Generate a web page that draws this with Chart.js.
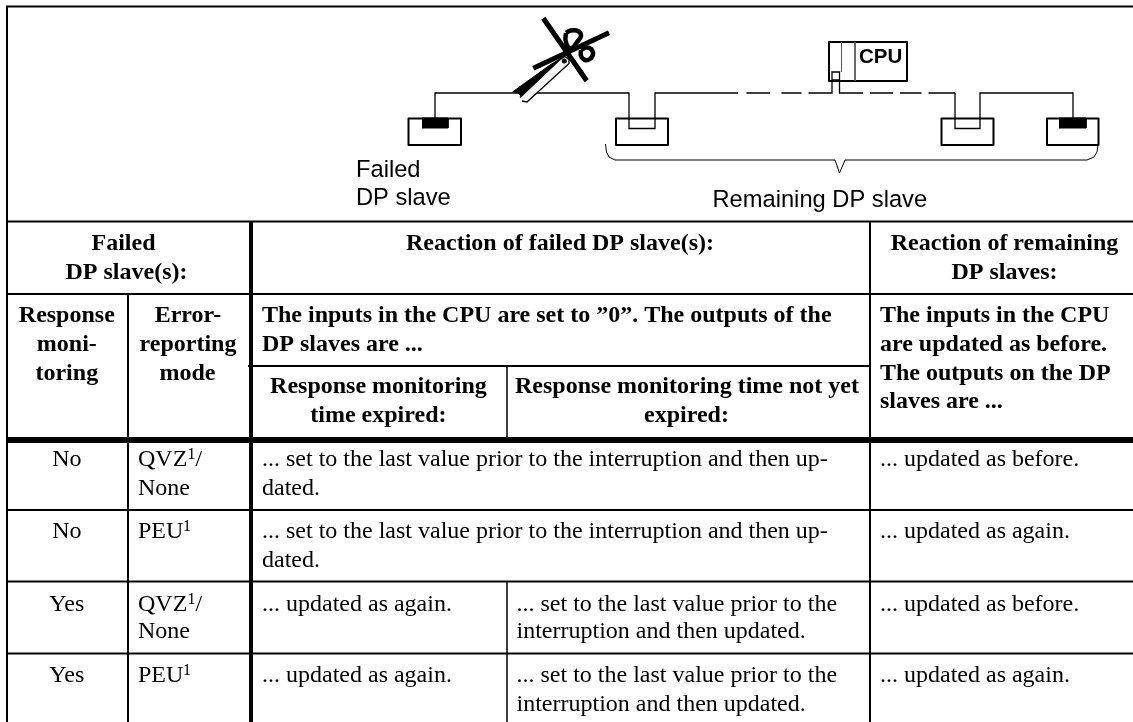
<!DOCTYPE html>
<html>
<head>
<meta charset="utf-8">
<title>DP slave failure reactions</title>
<script src="https://cdn.jsdelivr.net/npm/chart.js@4/dist/chart.umd.min.js"></script>
<style>
html, body { margin: 0; padding: 0; background: #fff; }
canvas { display: block; }
</style>
</head>
<body>
<canvas id="table" width="1133" height="722"></canvas>
<script>
// Everything sits on one linear x/y scale that runs over the size of the picture
const pageW = 1133;
const pageH = 722;

// Table rules, [x1, y1, x2, y2]
const rulesHeavy = [
    [6, 6.5, 1133, 6.5],
    [6, 221.5, 1133, 221.5],
    [7, 6, 7, 722],
    [6, 294, 1133, 294],
    [128, 294, 128, 722],
    [870, 222, 870, 722],
    [7, 510, 1133, 510],
    [7, 581.5, 1133, 581.5],
    [7, 653.5, 1133, 653.5],
    [248, 366, 870, 366]
];
const rulesThin = [
    [507, 366, 507, 440],
    [507, 582, 507, 722]
];
const ruleColumn = [[251, 222, 251, 722]];
const ruleHeader = [[6, 440, 1133, 440]];

// Bus drawing
const busSolid = [
    [435, 118], [435, 93], [629, 93], [629, 128.5], [655, 128.5], [655, 93], [738, 93], null,
    [955, 93], [955, 128.5], [980, 128.5], [980, 93], [1073, 93], [1073, 118], null,
    [746.5, 93], [770, 93], null,
    [781.5, 93], [801.5, 93], null,
    [808.5, 93], [832, 93], [832, 72], [839.5, 72], [839.5, 93], [863, 93], null,
    [832, 80], [839.5, 80], null,
    [870, 93], [893, 93], null,
    [900, 93], [921.5, 93], null,
    [928.5, 93], [955, 93]
];
const cpuInner = [
    [841.5, 42], [841.5, 72], null,
    [855, 42], [855, 81]
];
const boxes = [
    [408.5, 118.5], [461, 118.5], [461, 145], [408.5, 145], [408.5, 118.5], null,
    [616, 118.5], [668, 118.5], [668, 145], [616, 145], [616, 118.5], null,
    [941.5, 118.5], [993.5, 118.5], [993.5, 145], [941.5, 145], [941.5, 118.5], null,
    [1047, 118.5], [1098.5, 118.5], [1098.5, 145], [1047, 145], [1047, 118.5], null,
    [829, 42], [907, 42], [907, 81], [829, 81], [829, 42]
];
const slaveFailLeft = [[422, 118], [448, 118], [448, 128], [422, 128]];
const slaveFailRight = [[1059, 118], [1086, 118], [1086, 128], [1059, 128]];
const brace = [
    [605.5, 144], [606.5, 152], [609, 157], [615, 160], [835, 160], [839.5, 173], [845, 160],
    [1087, 160], [1094, 157], [1097, 152], [1098, 145]
];

// Scissors
const scissorBars = [
    [543.3, 18.3], [586.7, 80.7], null,
    [533.3, 68.3], [609, 32.7]
];
const bladeBlack = [[512.5, 92], [550, 65], [563, 57], [522, 97], [518, 93]];
const bladeWhite = [[520, 97.5], [560, 59.5], [565, 56.5], [569, 59.5], [569, 63.5], [527, 102], [522, 101]];
const ringUpper = [[566, 33], [571, 30.5], [578, 31], [581, 36], [577, 42], [572, 48], [568, 47], [565.5, 40], [566, 33]];
const ringLower = [[581, 50], [586, 47.5], [591, 49], [593, 54], [590, 59], [585, 60], [581, 56], [581, 50]];
const scissorPivot = [[564.3, 61]];

// Text rows: [text, x, baseline]
const textBoldCentre = [
    ['Failed', 123.5, 250], ['DP slave(s):', 126.5, 279],
    ['Reaction of failed DP slave(s):', 560, 250],
    ['Reaction of remaining', 1004.5, 250], ['DP slaves:', 1004.5, 279],
    ['Response', 66.8, 322], ['moni-', 66.8, 351], ['toring', 66.8, 380],
    ['Error-', 188, 322], ['reporting', 188, 351], ['mode', 187.5, 380],
    ['Response monitoring', 378.4, 393], ['time expired:', 378.4, 422],
    ['Response monitoring time not yet', 687, 393], ['expired:', 686.5, 422]
];
const textBoldLeft = [
    ['The inputs in the CPU are set to \u201d0\u201d. The outputs of the', 262, 322],
    ['DP slaves are ...', 262, 351],
    ['The inputs in the CPU', 880, 322],
    ['are updated as before.', 880, 351],
    ['The outputs on the DP', 880, 380],
    ['slaves are ...', 880, 408]
];
const textBody = [
    ['QVZ', 138, 466], ['None', 138, 494.5],
    ['... set to the last value prior to the interruption and then up-', 262, 466], ['dated.', 262, 494.5],
    ['... updated as before.', 880, 466],
    ['PEU', 138, 538],
    ['... set to the last value prior to the interruption and then up-', 262, 538], ['dated.', 262, 567],
    ['... updated as again.', 880, 538],
    ['QVZ', 138, 610.5], ['None', 138, 638],
    ['... updated as again.', 262, 610.5],
    ['... set to the last value prior to the', 516.5, 610.5], ['interruption and then updated.', 516.5, 638],
    ['... updated as before.', 880, 610.5],
    ['PEU', 138, 682],
    ['... updated as again.', 262, 682],
    ['... set to the last value prior to the', 516.5, 682], ['interruption and then updated.', 516.5, 710.5],
    ['... updated as again.', 880, 682]
];
const textBodyCentre = [['No', 66.8, 466], ['No', 66.8, 538], ['Yes', 66.8, 610.5], ['Yes', 66.8, 682]];
const textNotes = [['1', 187.5, 459], ['1', 183, 531], ['1', 187.5, 603.5], ['1', 183, 675]];
const textSlash = [['/', 195.5, 466], ['/', 195.5, 610.5]];
const textDiagram = [
    ['Failed', 356, 177], ['DP slave', 356, 205], ['Remaining DP slave', 712.5, 206.5]
];
const textCpu = [['CPU', 859, 62.5]];

// segments -> points with gaps, so one dataset can hold all the lines of one weight
function fromSegments(segs) {
    const out = [];
    segs.forEach(function(s) {
        out.push({ x: s[0], y: s[1] }, { x: s[2], y: s[3] }, { x: s[2], y: null });
    });
    return out;
}
function fromPath(path) {
    return path.map(function(p, i) {
        return p ? { x: p[0], y: p[1] } : { x: path[i - 1][0], y: null };
    });
}
function line(data, width, extra) {
    return Object.assign({
        data: data, showLine: true, borderColor: '#000', borderWidth: width,
        pointRadius: 0, fill: false, clip: false, spanGaps: false, tension: 0
    }, extra || {});
}
function solid(path) {
    return line(fromPath(path), 1, { fill: 'shape', backgroundColor: '#000' });
}

const textPlugin = {
    id: 'tableText',
    afterDraw: function(chart) {
        const ctx = chart.ctx;
        const xs = chart.scales.x;
        const ys = chart.scales.y;
        function put(rows, font, align) {
            ctx.font = font;
            ctx.textAlign = align;
            ctx.textBaseline = 'alphabetic';
            ctx.fillStyle = '#000';
            rows.forEach(function(r) {
                ctx.fillText(r[0], xs.getPixelForValue(r[1]), ys.getPixelForValue(r[2]));
            });
        }
        ctx.save();
        put(textBoldCentre, 'bold 24px "Liberation Serif"', 'center');
        put(textBoldLeft, 'bold 24px "Liberation Serif"', 'left');
        put(textBody, '24px "Liberation Serif"', 'left');
        put(textBodyCentre, '24px "Liberation Serif"', 'center');
        put(textSlash, '24px "Liberation Serif"', 'left');
        put(textNotes, '16px "Liberation Serif"', 'left');
        put(textDiagram, '23.7px "Liberation Sans"', 'left');
        put(textCpu, 'bold 20.5px "Liberation Sans"', 'left');
        ctx.restore();
    }
};

// Chart.js draws the first dataset on top, so the list runs from front to back
new Chart(document.getElementById('table'), {
    type: 'scatter',
    data: {
        datasets: [
            line(fromPath(scissorPivot), 0, { pointRadius: 2.5, pointBackgroundColor: '#000', showLine: false }),
            line(fromPath(bladeWhite), 1.3, { fill: 'shape', backgroundColor: '#f4f4f4' }),
            solid(bladeBlack),
            line(fromPath(scissorBars), 5),
            line(fromPath(ringUpper), 4.5, { tension: 0.4 }),
            line(fromPath(ringLower), 4.5, { tension: 0.4 }),
            line(fromPath(busSolid), 1.3),
            line(fromPath(cpuInner), 1, { borderColor: '#555' }),
            line(fromPath(boxes), 2, { borderJoinStyle: 'round', borderCapStyle: 'round' }),
            line(fromPath(brace), 1),
            solid(slaveFailLeft),
            solid(slaveFailRight),
            line(fromSegments(rulesHeavy), 2),
            line(fromSegments(rulesThin), 1.5),
            line(fromSegments(ruleColumn), 4),
            line(fromSegments(ruleHeader), 6)
        ]
    },
    plugins: [textPlugin],
    options: {
        responsive: false,
        animation: false,
        layout: { padding: 0, autoPadding: false },
        plugins: { legend: { display: false }, tooltip: { enabled: false } },
        scales: {
            x: { type: 'linear', min: 0, max: pageW, display: false },
            y: { type: 'linear', min: 0, max: pageH, reverse: true, display: false }
        }
    }
});
</script>
</body>
</html>
